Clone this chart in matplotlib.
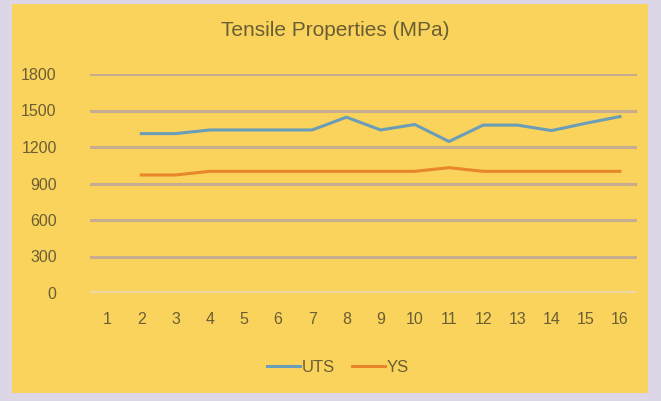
import numpy as np
import matplotlib.pyplot as plt
from matplotlib.patches import Rectangle

# Sample numbers 1..16, tensile values in MPa (sample 1 has no test data)
samples = [str(i) for i in range(1, 17)]
uts = [np.nan, 1310, 1310, 1340, 1340, 1340, 1340, 1445, 1340, 1385,
       1245, 1380, 1380, 1335, 1395, 1450]
ys = [np.nan, 970, 970, 1000, 1000, 1000, 1000, 1000, 1000, 1000,
      1030, 1000, 1000, 1000, 1000, 1000]
yticks = [0, 300, 600, 900, 1200, 1500, 1800]

plt.rcParams['font.family'] = ['Liberation Sans', 'DejaVu Sans']
text_col = '#6A5F34'
bg_col = '#FAD35C'

fig = plt.figure(figsize=(6.61, 4.01), dpi=100, facecolor='#DDD6E6')
# yellow chart area inside the lavender frame
fig.patches.append(Rectangle((12 / 661, 8 / 401), 636 / 661, 389 / 401,
                             transform=fig.transFigure, facecolor=bg_col,
                             edgecolor='none', zorder=-10))

ax = fig.add_axes([90 / 661, 108 / 401, 547 / 661, 219 / 401])
ax.set_facecolor('none')
ax.set_zorder(5)

x = np.arange(1, len(samples) + 1)
ax.plot(x, uts, color='#6A9DB8', lw=2.2, label='UTS', zorder=3)
ax.plot(x, ys, color='#E8872A', lw=2.2, label='YS', zorder=3)

ax.set_xlim(0.5, len(samples) + 0.5)
ax.set_ylim(0, 1800)
ax.set_yticks(yticks)
ax.set_yticklabels([str(v) for v in yticks])
ax.set_xticks(x)
ax.set_xticklabels(samples)
ax.tick_params(length=0, colors=text_col, labelsize=11.5)
ax.tick_params(axis='y', pad=24)
ax.tick_params(axis='x', pad=14)

for v in yticks[1:]:
    ax.axhline(v, color='#C6AC90', lw=2.2, zorder=1)
ax.axhline(0, color='#EDD9A6', lw=3, zorder=1)
for s in ax.spines.values():
    s.set_visible(False)

fig.text(335 / 661, 1 - 31 / 401, 'Tensile Properties (MPa)', ha='center',
         va='center', fontsize=15, color=text_col, zorder=6)

leg = ax.legend(loc='center', bbox_to_anchor=(338 / 661, 1 - 367 / 401),
                bbox_transform=fig.transFigure, ncol=2, frameon=False,
                fontsize=12, handlelength=2.0, handletextpad=0.1,
                columnspacing=1.0)
for t in leg.get_texts():
    t.set_color(text_col)

fig.savefig('out.png', dpi=100, facecolor=fig.get_facecolor())
